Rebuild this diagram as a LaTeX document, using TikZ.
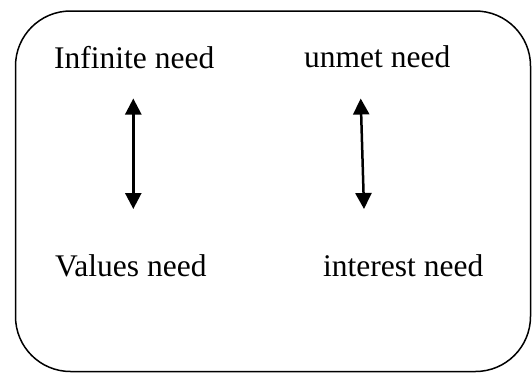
\documentclass[tikz,border=0pt]{standalone}
\usepackage{fontspec}
\setmainfont{Liberation Serif}
\usetikzlibrary{arrows.meta}

\tikzset{
  need/.style={anchor=base west, inner sep=0pt, font=\fontsize{31.5}{36}\selectfont},
  link/.style={line width=2.5pt, {Triangle[width=16pt,length=16pt]}-{Triangle[width=16pt,length=16pt]}}
}

\begin{document}
\begin{tikzpicture}[x=1pt, y=-1pt]
    \useasboundingbox (0, 0) rectangle (532, 372);
    \draw[line width=1.5pt, rounded corners=55pt] (15.5, 11) rectangle (530.5, 371.5);

    \node[need] (inf) at (54, 68) {Infinite need};
    \node[need] (unmet) at (304, 67) {unmet need};
    \node[need] (val) at (55, 276) {Values need};
    \node[need] (int) at (323, 276) {interest need};

    \coordinate (infB) at (133.3, 98.5);
    \coordinate (valT) at (133.3, 209);
    \coordinate (unmetB) at (360.7, 98.5);
    \coordinate (intT) at (364, 209);

    \draw[link] (infB) -- (valT);
    \draw[link] (unmetB) -- (intT);

  \end{tikzpicture}
\end{document}
